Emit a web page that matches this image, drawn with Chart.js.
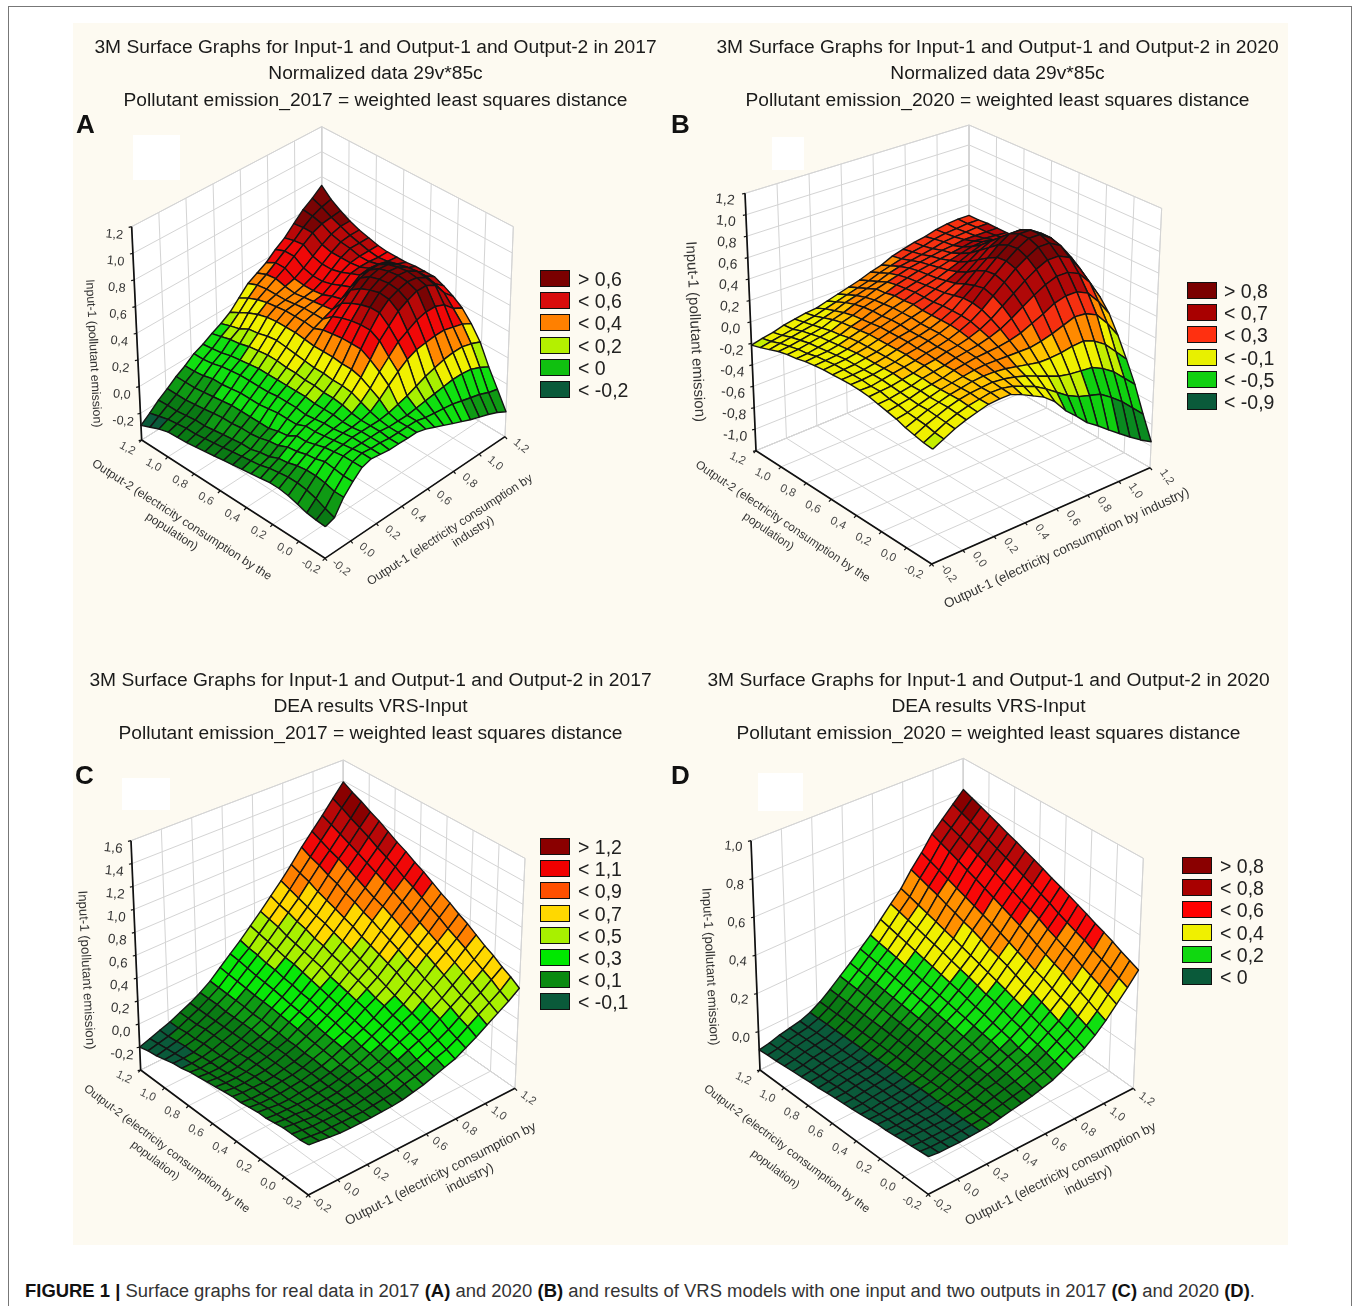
<!DOCTYPE html>
<html><head><meta charset="utf-8">
<script src="https://cdn.jsdelivr.net/npm/chart.js@4"></script>
<style>
html,body{margin:0;padding:0;background:#fff;width:1354px;height:1306px;overflow:hidden;font-family:"Liberation Sans",Arial,sans-serif}
.abs{position:absolute}
#frame{position:absolute;left:8px;top:6px;width:1344px;height:1300px;border:1.5px solid #777;border-bottom:none;box-sizing:border-box}
#cream{position:absolute;left:73px;top:23px;width:1215px;height:1222px;background:#fdfaf1}
.t{position:absolute;white-space:nowrap;font-size:19.2px;color:#1a1a1a;transform:translate(-50%,-50%);filter:blur(.3px)}
.l{position:absolute;font-weight:bold;font-size:26px;color:#111;transform:translateY(-50%)}
.lb{position:absolute;width:28px;height:15px;border:1.5px solid #111}
.lt{position:absolute;font-size:19.5px;color:#222;transform:translateY(-50%);white-space:nowrap;filter:blur(.3px)}
.m{position:absolute;background:#fff}
canvas{position:absolute;filter:blur(.5px)}
#cap{position:absolute;left:25px;top:1280px;font-size:18.45px;color:#333;white-space:nowrap}
#cap b{color:#111}
</style></head><body>
<div id="frame"></div><div id="cream"></div><div id="cap"><b>FIGURE 1 |</b> Surface graphs for real data in 2017 <b>(A)</b> and 2020 <b>(B)</b> and results of VRS models with one input and two outputs in 2017 <b>(C)</b> and 2020 <b>(D)</b>.</div>
<script>
// Output-1 / Output-2 tick values
const planeTicks=[-0.2,0,0.2,0.4,0.6,0.8,1,1.2];
const zTicksA=[-0.4,-0.2,0,0.2,0.4,0.6,0.8,1,1.2];
const zTicksB=[-1.2,-1,-0.8,-0.6,-0.4,-0.2,0,0.2,0.4,0.6,0.8,1,1.2];
const zTicksC=[-0.4,-0.2,0,0.2,0.4,0.6,0.8,1,1.2,1.4,1.6];
const zTicksD=[-0.2,0,0.2,0.4,0.6,0.8,1];

const legendA=["> 0,6","< 0,6","< 0,4","< 0,2","< 0","< -0,2"];
const legendB=["> 0,8","< 0,7","< 0,3","< -0,1","< -0,5","< -0,9"];
const legendC=["> 1,2","< 1,1","< 0,9","< 0,7","< 0,5","< 0,3","< 0,1","< -0,1"];
const legendD=["> 0,8","< 0,8","< 0,6","< 0,4","< 0,2","< 0"];

// Input-1 surface heights: rows = Output-2 from -0.2 to 1.2, columns = Output-1 from -0.2 to 1.2
const surfaceA=[
[-.175,-.154,-.05,.02,.08,.1,.09,.08,.08,.078,.079,.06,.03,0,-.03,-.06,-.09,-.115,-.14,-.17,-.21],
[-.17,-.13,-.05,.02,.08,.1,.09,.09,.08,.08,.08,.08,.06,.05,.04,.03,.01,-.01,-.03,-.06,-.08],
[-.16,-.1,-.03,.03,.08,.09,.09,.09,.09,.08,.08,.08,.09,.1,.11,.12,.13,.13,.12,.09,.05],
[-.14,-.08,-.02,.04,.07,.08,.09,.09,.09,.09,.1,.12,.14,.17,.2,.22,.24,.25,.25,.23,.2],
[-.12,-.07,-.02,.02,.06,.07,.08,.08,.09,.11,.16,.22,.28,.33,.36,.37,.38,.38,.36,.34,.3],
[-.11,-.07,-.03,.01,.04,.06,.07,.08,.1,.14,.2,.28,.35,.42,.46,.5,.52,.52,.49,.42,.38],
[-.11,-.08,-.05,-.01,.02,.05,.07,.09,.12,.17,.24,.33,.43,.5,.57,.61,.64,.64,.6,.5,.43],
[-.12,-.09,-.06,-.02,.02,.05,.06,.09,.13,.18,.26,.37,.47,.56,.62,.65,.67,.66,.62,.53,.47],
[-.13,-.11,-.09,-.05,-.02,.02,.05,.09,.13,.18,.26,.37,.47,.56,.63,.66,.68,.67,.63,.55,.5],
[-.14,-.12,-.1,-.06,-.03,.02,.06,.1,.14,.19,.27,.37,.46,.54,.61,.65,.67,.66,.62,.54,.5],
[-.15,-.13,-.12,-.08,-.05,.02,.06,.1,.14,.19,.27,.36,.44,.51,.58,.63,.65,.64,.6,.53,.5],
[-.16,-.14,-.12,-.09,-.05,.01,.06,.1,.15,.2,.27,.35,.41,.47,.53,.58,.6,.6,.57,.52,.49],
[-.17,-.15,-.13,-.09,-.05,0,.05,.1,.15,.21,.28,.32,.35,.38,.42,.47,.52,.53,.52,.5,.49],
[-.18,-.16,-.14,-.1,-.05,0,.05,.1,.16,.22,.29,.33,.35,.37,.4,.44,.49,.5,.5,.49,.49],
[-.19,-.17,-.15,-.1,-.05,0,.05,.1,.16,.23,.29,.33,.35,.36,.37,.41,.46,.49,.5,.5,.5],
[-.2,-.18,-.16,-.11,-.06,-.01,.05,.09,.15,.22,.29,.33,.34,.35,.36,.39,.44,.49,.52,.52,.52],
[-.205,-.18,-.16,-.12,-.07,-.02,.04,.08,.14,.2,.28,.32,.33,.34,.36,.39,.44,.49,.53,.54,.54],
[-.21,-.19,-.17,-.13,-.08,-.02,.03,.07,.12,.19,.26,.31,.33,.35,.37,.41,.46,.51,.55,.57,.57],
[-.23,-.2,-.18,-.14,-.09,-.04,.01,.05,.11,.15,.23,.29,.33,.37,.41,.46,.51,.56,.59,.6,.61],
[-.26,-.22,-.18,-.14,-.09,-.05,0,.04,.09,.13,.19,.26,.32,.36,.41,.46,.5,.56,.61,.64,.66],
[-.29,-.24,-.185,-.14,-.09,-.05,0,.03,.07,.105,.15,.22,.29,.33,.37,.43,.48,.55,.62,.67,.73]];
const surfaceB=[
[-.21,-.16,-.11,-.07,-.04,-.01,0,0,-.04,-.09,-.14,-.22,-.34,-.43,-.53,-.6,-.68,-.755,-.83,-.9,-.96],
[-.2,-.15,-.1,-.06,-.03,-.01,.01,.01,-.01,-.05,-.09,-.15,-.22,-.29,-.34,-.37,-.4,-.47,-.55,-.65,-.75],
[-.18,-.13,-.09,-.05,-.02,0,.01,.02,.01,-.01,-.04,-.08,-.12,-.16,-.18,-.19,-.2,-.25,-.32,-.42,-.52],
[-.16,-.12,-.08,-.05,-.02,0,.02,.03,.03,.02,0,-.02,-.04,-.04,-.03,-.01,0,-.04,-.11,-.22,-.33],
[-.13,-.11,-.08,-.05,-.02,0,.02,.04,.05,.05,.05,.05,.05,.07,.1,.14,.18,.17,.12,0,-.15],
[-.11,-.09,-.07,-.04,-.02,0,.03,.05,.07,.08,.09,.11,.14,.19,.24,.3,.33,.33,.28,.16,.01],
[-.09,-.08,-.06,-.04,-.01,.01,.03,.06,.08,.1,.13,.17,.23,.3,.37,.43,.47,.47,.42,.3,.12],
[-.07,-.06,-.05,-.03,-.01,.02,.04,.07,.09,.12,.16,.22,.3,.38,.46,.53,.58,.58,.53,.38,.2],
[-.06,-.06,-.04,-.02,0,.02,.05,.07,.1,.14,.19,.26,.35,.44,.53,.6,.66,.66,.6,.45,.25],
[-.055,-.05,-.04,-.02,0,.03,.05,.08,.11,.15,.2,.28,.38,.47,.56,.64,.7,.7,.63,.46,.28],
[-.055,-.05,-.04,-.02,0,.03,.06,.08,.11,.15,.2,.28,.36,.46,.55,.63,.7,.7,.63,.46,.3],
[-.06,-.05,-.04,-.02,0,.03,.06,.08,.11,.15,.2,.26,.33,.42,.5,.59,.66,.66,.58,.43,.31],
[-.06,-.05,-.04,-.02,0,.03,.06,.09,.12,.15,.19,.24,.29,.36,.44,.52,.58,.58,.51,.4,.31],
[-.07,-.06,-.05,-.03,0,.03,.06,.09,.12,.16,.19,.23,.27,.32,.38,.45,.5,.5,.45,.37,.31],
[-.08,-.07,-.06,-.04,-.01,.02,.05,.08,.12,.15,.19,.22,.25,.29,.33,.38,.42,.43,.39,.34,.3],
[-.1,-.09,-.07,-.05,-.03,.01,.04,.08,.11,.15,.18,.21,.24,.27,.3,.33,.36,.37,.35,.32,.3],
[-.11,-.1,-.08,-.06,-.04,0,.03,.07,.1,.13,.17,.2,.23,.25,.27,.29,.31,.33,.32,.31,.3],
[-.13,-.12,-.1,-.08,-.06,-.02,.01,.05,.08,.12,.15,.18,.21,.23,.25,.27,.28,.3,.3,.3,.3],
[-.16,-.14,-.12,-.1,-.08,-.05,-.02,.02,.05,.08,.11,.15,.18,.2,.22,.24,.27,.28,.29,.3,.3],
[-.19,-.17,-.15,-.13,-.1,-.08,-.05,-.02,.01,.04,.07,.11,.14,.17,.2,.22,.25,.27,.28,.29,.29],
[-.215,-.19,-.17,-.14,-.12,-.1,-.09,-.06,-.03,0,.03,.07,.1,.15,.18,.21,.23,.26,.28,.29,.29]];
const surfaceC=[
[0,-.01,-.02,-.03,-.03,-.03,-.03,-.025,-.02,-.01,.01,.03,.06,.09,.12,.17,.22,.28,.34,.4,.47],
[-.01,-.02,-.03,-.03,-.03,-.03,-.03,-.02,-.01,0,.03,.05,.08,.12,.15,.2,.26,.32,.38,.44,.52],
[-.01,-.02,-.03,-.03,-.03,-.03,-.03,-.015,0,.015,.04,.07,.1,.14,.18,.23,.29,.36,.42,.49,.56],
[-.01,-.02,-.03,-.04,-.03,-.03,-.02,-.01,.01,.03,.06,.09,.13,.17,.21,.27,.33,.39,.46,.53,.61],
[-.02,-.03,-.03,-.04,-.04,-.03,-.02,0,.02,.04,.07,.11,.15,.19,.24,.3,.36,.43,.5,.57,.65],
[-.03,-.04,-.04,-.04,-.04,-.03,-.02,0,.025,.05,.09,.125,.17,.22,.265,.33,.4,.47,.54,.62,.7],
[-.03,-.04,-.05,-.05,-.04,-.03,-.015,.005,.03,.065,.1,.145,.19,.24,.29,.36,.43,.51,.58,.66,.75],
[-.04,-.05,-.05,-.05,-.04,-.03,-.01,.01,.04,.08,.12,.16,.21,.27,.32,.39,.47,.55,.62,.7,.79],
[-.05,-.06,-.06,-.05,-.04,-.03,-.01,.02,.05,.09,.13,.18,.24,.29,.35,.43,.5,.58,.66,.75,.84],
[-.05,-.06,-.06,-.06,-.05,-.03,-.01,.02,.06,.1,.15,.2,.26,.32,.38,.46,.54,.62,.7,.79,.88],
[-.06,-.07,-.07,-.06,-.05,-.03,0,.03,.07,.115,.165,.22,.28,.345,.41,.49,.575,.66,.745,.835,.93],
[-.07,-.08,-.08,-.07,-.05,-.03,0,.03,.08,.13,.18,.24,.3,.37,.44,.52,.61,.7,.79,.88,.98],
[-.08,-.09,-.09,-.08,-.05,-.03,0,.04,.09,.14,.2,.26,.32,.4,.47,.55,.65,.74,.83,.92,1.02],
[-.09,-.1,-.1,-.08,-.06,-.03,0,.04,.1,.15,.21,.28,.35,.42,.5,.59,.68,.77,.87,.97,1.07],
[-.1,-.11,-.1,-.09,-.06,-.03,.01,.05,.11,.165,.23,.3,.37,.45,.53,.62,.72,.81,.91,1.01,1.11],
[-.12,-.12,-.11,-.09,-.06,-.03,.01,.05,.115,.18,.24,.32,.39,.47,.56,.65,.75,.85,.95,1.05,1.16],
[-.13,-.13,-.12,-.09,-.06,-.03,.01,.06,.12,.19,.26,.33,.41,.5,.58,.68,.79,.89,.99,1.1,1.21],
[-.15,-.14,-.12,-.1,-.06,-.03,.01,.065,.13,.2,.27,.35,.43,.52,.61,.71,.82,.93,1.03,1.14,1.25],
[-.17,-.15,-.13,-.1,-.07,-.03,.02,.07,.14,.215,.29,.37,.46,.55,.64,.75,.86,.96,1.07,1.18,1.3],
[-.18,-.16,-.14,-.11,-.07,-.03,.02,.075,.15,.23,.3,.39,.48,.57,.67,.78,.89,1,1.11,1.23,1.34],
[-.2,-.17,-.14,-.11,-.07,-.03,.02,.08,.16,.24,.32,.41,.5,.6,.7,.81,.93,1.04,1.15,1.27,1.39]];
const surfaceD=[
[-.02,-.025,-.025,-.025,-.023,-.02,-.015,-.005,.005,.015,.025,.04,.055,.08,.11,.14,.18,.23,.29,.35,.417],
[-.024,-.028,-.027,-.027,-.024,-.02,-.014,-.003,.009,.021,.033,.05,.067,.094,.125,.158,.2,.25,.31,.37,.437],
[-.028,-.031,-.03,-.029,-.026,-.021,-.014,0,.013,.027,.041,.059,.079,.107,.14,.175,.218,.271,.331,.391,.457],
[-.03,-.03,-.03,-.03,-.03,-.02,-.01,0,.02,.03,.05,.07,.09,.12,.155,.19,.24,.29,.35,.41,.48],
[-.035,-.035,-.035,-.03,-.03,-.02,-.01,.004,.02,.04,.056,.08,.1,.13,.17,.21,.256,.31,.37,.43,.5],
[-.039,-.04,-.036,-.034,-.03,-.023,-.011,.006,.025,.044,.064,.088,.114,.148,.185,.228,.275,.333,.393,.453,.518],
[-.04,-.04,-.04,-.035,-.03,-.02,-.01,.01,.03,.05,.07,.1,.126,.16,.2,.245,.295,.35,.41,.47,.54],
[-.045,-.045,-.04,-.037,-.03,-.02,-.01,.01,.03,.055,.08,.107,.137,.175,.215,.26,.31,.37,.43,.49,.56],
[-.05,-.05,-.043,-.04,-.034,-.024,-.01,.013,.037,.06,.087,.116,.15,.19,.23,.28,.33,.39,.45,.51,.58],
[-.054,-.052,-.045,-.04,-.035,-.025,-.01,.015,.04,.067,.095,.126,.16,.2,.245,.3,.35,.415,.475,.535,.6],
[-.058,-.055,-.048,-.043,-.037,-.025,-.008,.018,.045,.073,.103,.135,.173,.215,.26,.315,.37,.435,.495,.555,.619],
[-.06,-.058,-.05,-.044,-.038,-.025,-.007,.02,.05,.08,.11,.145,.185,.23,.275,.33,.39,.455,.515,.575,.64],
[-.065,-.06,-.052,-.046,-.04,-.026,-.006,.022,.053,.085,.12,.154,.196,.242,.29,.35,.41,.476,.536,.596,.66],
[-.07,-.064,-.054,-.048,-.04,-.027,-.005,.024,.057,.09,.126,.164,.208,.256,.305,.37,.427,.497,.557,.617,.68],
[-.072,-.067,-.057,-.05,-.042,-.027,-.005,.027,.061,.095,.134,.173,.22,.27,.32,.385,.446,.517,.577,.637,.7],
[-.076,-.07,-.059,-.051,-.043,-.028,-.004,.029,.065,.101,.141,.183,.231,.283,.335,.403,.465,.538,.598,.658,.719],
[-.08,-.073,-.061,-.053,-.044,-.028,-.003,.031,.069,.107,.149,.192,.243,.296,.35,.42,.484,.558,.618,.678,.74],
[-.084,-.076,-.063,-.055,-.046,-.029,-.002,.033,.073,.113,.157,.202,.255,.31,.365,.44,.503,.579,.639,.699,.76],
[-.088,-.079,-.066,-.056,-.047,-.029,-.002,.036,.077,.119,.165,.211,.266,.323,.38,.455,.522,.6,.66,.72,.78],
[-.09,-.082,-.068,-.058,-.049,-.03,-.001,.038,.081,.124,.172,.22,.278,.337,.395,.473,.541,.62,.68,.74,.8],
[-.095,-.085,-.07,-.06,-.05,-.03,0,.04,.085,.13,.18,.23,.29,.35,.41,.49,.56,.64,.7,.76,.82]];

const panels=[
{id:"A",surface:surfaceA,zTicks:zTicksA,legend:legendA,
 box:[70,110,480,490],
 floor:{F:[765,1345],R:[1305,980],L:[215,990],B:[755,650]},top:{F:[772,670],R:[1330,350],L:[185,350],B:[755,50]},
 bands:[[-.22,"#0a5a3a"],[-.13,"#0a7a14"],[-.04,"#0f9a14"],[.115,"#10e010"],[.17,"#a8f000"],[.29,"#f0f000"],[.37,"#ff8800"],[.5,"#f00808"],[.58,"#b80808"],[9,"#7a0404"]],
 legendColors:["#7a0000","#d80c0c","#ff8000","#b4f000","#10c010","#0a5a3a"],
 title:["3M Surface Graphs for Input-1 and Output-1 and Output-2 in 2017","Normalized data 29v*85c","Pollutant emission_2017 = weighted least squares distance"],titleX:375.5,titleY:[47,73,100],
 letter:[76,124],mask:[133,135,47,45],legendBox:[540,279,578],legendStep:22.2,
 zLabel:[70,730,87,12.3],o2:[[335,1230,33,"Output-2 (electricity consumption by the",12],[305,1265,33,"population)",12]],o1:[[1140,1260,-33,"Output-1 (electricity consumption by",12.2],[1210,1265,-33,"industry)",12.2]],
 tickOff:{z:[-52,24],o2:[-43,25],o1:[48,28]},o1Rot:40,o2Rot:28,zfs:12.5},
{id:"B",surface:surfaceB,zTicks:zTicksB,legend:legendB,
 box:[670,110,520,510],
 floor:{F:[785,1362],R:[1440,1073],L:[258,1022],B:[897,760]},top:{F:[792,527],R:[1475,295],L:[225,250],B:[897,45]},
 bands:[[-.85,"#0a5a3a"],[-.6,"#0a8a20"],[-.27,"#10d010"],[-.17,"#c4ee00"],[-.02,"#f0f000"],[.03,"#ffc400"],[.15,"#ff8a00"],[.3,"#f53010"],[.55,"#b00808"],[9,"#7a0505"]],
 legendColors:["#7a0000","#a80000","#ff3010","#e8f000","#10d010","#0a5a3a"],
 title:["3M Surface Graphs for Input-1 and Output-1 and Output-2 in 2020","Normalized data 29v*85c","Pollutant emission_2020 = weighted least squares distance"],titleX:997.5,titleY:[47,73,100],
 letter:[671,124],mask:[772,137,32,33],legendBox:[1187,291,1224],legendStep:22.2,
 zLabel:[75,665,87,15],o2:[[338,1235,34,"Output-2 (electricity consumption by the",11.8],[295,1265,34,"population)",11.8]],o1:[[1190,1315,-25,"Output-1 (electricity consumption by industry)",13.4]],
 tickOff:{z:[-60,20],o2:[-55,24],o1:[50,28]},o1Rot:55,o2Rot:25,zfs:14},
{id:"C",surface:surfaceC,zTicks:zTicksC,legend:legendC,
 box:[70,750,480,490],
 floor:{F:[715,1335],R:[1335,1015],L:[212,960],B:[820,655]},top:{F:[722,582],R:[1365,325],L:[183,272],B:[820,30]},
 bands:[[-.12,"#0a5a3a"],[.02,"#0a7a14"],[.1,"#0f9a14"],[.3,"#08e808"],[.5,"#a8f000"],[.68,"#ffd800"],[.88,"#ff8000"],[1.05,"#f00808"],[1.2,"#b80808"],[9,"#8a0000"]],
 legendColors:["#8a0000","#f00000","#ff5000","#ffd800","#a8f000","#00e800","#0a8a10","#0a5a3a"],
 title:["3M Surface Graphs for Input-1 and Output-1 and Output-2 in 2017","DEA results VRS-Input","Pollutant emission_2017 = weighted least squares distance"],titleX:370.5,titleY:[680,706,733],
 letter:[75,775],mask:[122,778,48,32],legendBox:[540,847,578],legendStep:22.2,
 zLabel:[48,660,87,13.2],o2:[[290,1197,37,"Output-2 (electricity consumption by the",11.6],[255,1232,37,"population)",11.6]],o1:[[1112,1272,-27,"Output-1 (electricity consumption by",13.3],[1200,1285,-27,"industry)",13.3]],
 tickOff:{z:[-53,23],o2:[-50,22],o1:[40,30]},o1Rot:35,o2Rot:25,zfs:13.5},
{id:"D",surface:surfaceD,zTicks:zTicksD,legend:legendD,
 box:[670,750,520,490],
 floor:{F:[775,1333],R:[1390,1015],L:[270,960],B:[880,650]},top:{F:[780,580],R:[1420,325],L:[243,272],B:[880,25]},
 bands:[[-.02,"#0a5a3a"],[.045,"#0a7a14"],[.1,"#0f9a14"],[.22,"#10e010"],[.35,"#f0f000"],[.47,"#ff9000"],[.6,"#f80808"],[.75,"#b80808"],[9,"#8a0000"]],
 legendColors:["#8a0000","#a80000","#ff0000","#f0f000","#10d810","#0a5a3a"],
 title:["3M Surface Graphs for Input-1 and Output-1 and Output-2 in 2020","DEA results VRS-Input","Pollutant emission_2020 = weighted least squares distance"],titleX:988.5,titleY:[680,706,733],
 letter:[671,775],mask:[758,773,45,38],legendBox:[1182,866,1220],legendStep:22.2,
 zLabel:[120,650,87,13.1],o2:[[350,1197,37,"Output-2 (electricity consumption by the",11.6],[315,1258,37,"population)",11.6]],o1:[[1172,1272,-27,"Output-1 (electricity consumption by",13.3],[1255,1292,-27,"industry)",13.3]],
 tickOff:{z:[-53,18],o2:[-50,26],o1:[40,33]},o1Rot:35,o2Rot:25,zfs:13}
];

const fmt=v=>v.toFixed(1).replace(".",",");
function el(cls,css,txt){const d=document.createElement("div");d.className=cls;Object.assign(d.style,css);if(txt!=null)d.textContent=txt;document.body.appendChild(d);return d;}

panels.forEach(p=>{
  p.title.forEach((s,i)=>el("t",{left:p.titleX+"px",top:p.titleY[i]+"px"},s));
  el("m",{left:p.mask[0]+"px",top:p.mask[1]+"px",width:p.mask[2]+"px",height:p.mask[3]+"px"});
  const [lx,ly,tx]=p.legendBox;
  p.legend.forEach((s,i)=>{const y=ly+i*p.legendStep;
    el("lb",{left:lx+"px",top:(y-9)+"px",background:p.legendColors[i]});
    el("lt",{left:tx+"px",top:y+"px"},s);});

  const zs=p.zTicks, zmin=zs[0], zmax=zs[zs.length-1];
  const bil=(c,k,s,t)=>c.F[k]*(1-s)*(1-t)+c.R[k]*s*(1-t)+c.L[k]*(1-s)*t+c.B[k]*s*t;
  const project=(s,t,z)=>{const f=(z-zmin)/(zmax-zmin);
    const fx=bil(p.floor,0,s,t),fy=bil(p.floor,1,s,t);
    return {x:fx+(bil(p.top,0,s,t)-fx)*f,y:fy+(bil(p.top,1,s,t)-fy)*f};};
  const u=v=>(v+0.2)/1.4;
  const ds=[];
  const line=(pts,color,w)=>ds.push({data:pts,showLine:true,borderColor:color,borderWidth:w,pointRadius:0,fill:false,tension:0});
  const poly=(pts,fillc,lc,w)=>ds.push({data:pts.concat([pts[0]]),showLine:true,backgroundColor:fillc,borderColor:lc,borderWidth:w,pointRadius:0,fill:"shape",tension:0,borderJoinStyle:"round"});
  const G="#d4d4d4";
  // walls and floor
  poly([project(0,1,zmin),project(1,1,zmin),project(1,1,zmax),project(0,1,zmax)],"#fff",G,1);
  poly([project(1,0,zmin),project(1,1,zmin),project(1,1,zmax),project(1,0,zmax)],"#fff",G,1);
  poly([project(0,0,zmin),project(1,0,zmin),project(1,1,zmin),project(0,1,zmin)],"#fff",G,1);
  zs.forEach(z=>line([project(0,1,z),project(1,1,z),project(1,0,z)],G,1));
  planeTicks.forEach(v=>{const a=u(v);
    line([project(a,1,zmax),project(a,1,zmin),project(a,0,zmin)],G,1);
    line([project(1,a,zmax),project(1,a,zmin),project(0,a,zmin)],G,1);});
  // axes
  line([project(0,1,zmax),project(0,1,zmin),project(0,0,zmin),project(1,0,zmin)],"#111",1.7);
  zs.forEach(z=>{const a=project(0,1,z);line([a,{x:a.x-9,y:a.y+2}],"#111",1.2);});
  planeTicks.forEach(v=>{const a=project(0,u(v),zmin),b=project(u(v),0,zmin);
    line([a,{x:a.x-7,y:a.y+7}],"#111",1.2);line([b,{x:b.x+6,y:b.y+7}],"#111",1.2);});
  // surface cells, far corner first
  const Z=p.surface,n=Z.length-1;
  const colorOf=v=>{for(const [lim,c] of p.bands){if(v<lim)return c;}return p.bands[p.bands.length-1][1];};
  for(let j=n-1;j>=0;j--)for(let i=n-1;i>=0;i--){
    const m=(Z[j][i]+Z[j][i+1]+Z[j+1][i]+Z[j+1][i+1])/4;
    poly([project(i/n,j/n,Z[j][i]),project((i+1)/n,j/n,Z[j][i+1]),project((i+1)/n,(j+1)/n,Z[j+1][i+1]),project(i/n,(j+1)/n,Z[j+1][i])],colorOf(m),"#141414",1.4);
  }
  ds.reverse();
  const [bx,by,bw,bh]=p.box;
  const cv=document.createElement("canvas");cv.width=bw;cv.height=bh;cv.style.left=bx+"px";cv.style.top=by+"px";cv.style.width=bw+"px";cv.style.height=bh+"px";document.body.appendChild(cv);
  const labels={id:"axisText",afterDatasetsDraw(chart){
    const c=chart.ctx,X=chart.scales.x,Y=chart.scales.y;
    const txt=(x,y,rot,s,size,col)=>{c.save();c.translate(X.getPixelForValue(x),Y.getPixelForValue(y));c.rotate(rot*Math.PI/180);c.textAlign="center";c.textBaseline="middle";c.font=size+'px "Liberation Sans"';c.fillStyle=col;c.fillText(s,0,0);c.restore();};
    const C="#333";
    zs.forEach((z,i)=>{if(i===0)return;const a=project(0,1,z);txt(a.x+p.tickOff.z[0],a.y+p.tickOff.z[1],6,fmt(z),p.zfs,C);});
    planeTicks.forEach(v=>{const a=project(0,u(v),zmin),b=project(u(v),0,zmin);
      txt(a.x+p.tickOff.o2[0],a.y+p.tickOff.o2[1],p.o2Rot,fmt(v),11.5,"#4a4a4a");
      txt(b.x+p.tickOff.o1[0],b.y+p.tickOff.o1[1],p.o1Rot,fmt(v),11.5,"#4a4a4a");});
    txt(p.zLabel[0],p.zLabel[1],p.zLabel[2],"Input-1 (pollutant emission)",p.zLabel[3],C);
    p.o2.concat(p.o1).forEach(l=>txt(l[0],l[1],l[2],l[3],l[4],C));
  }};
  new Chart(cv,{type:"scatter",data:{datasets:ds},plugins:[labels],options:{
    responsive:false,animation:false,devicePixelRatio:1,events:[],
    layout:{padding:0},
    plugins:{legend:{display:false},tooltip:{enabled:false}},
    scales:{x:{type:"linear",display:false,min:0,max:bw*3},y:{type:"linear",display:false,reverse:true,min:0,max:bh*3}}
  }});
  el("l",{left:p.letter[0]+"px",top:p.letter[1]+"px"},p.id);
});
</script>
</body></html>
